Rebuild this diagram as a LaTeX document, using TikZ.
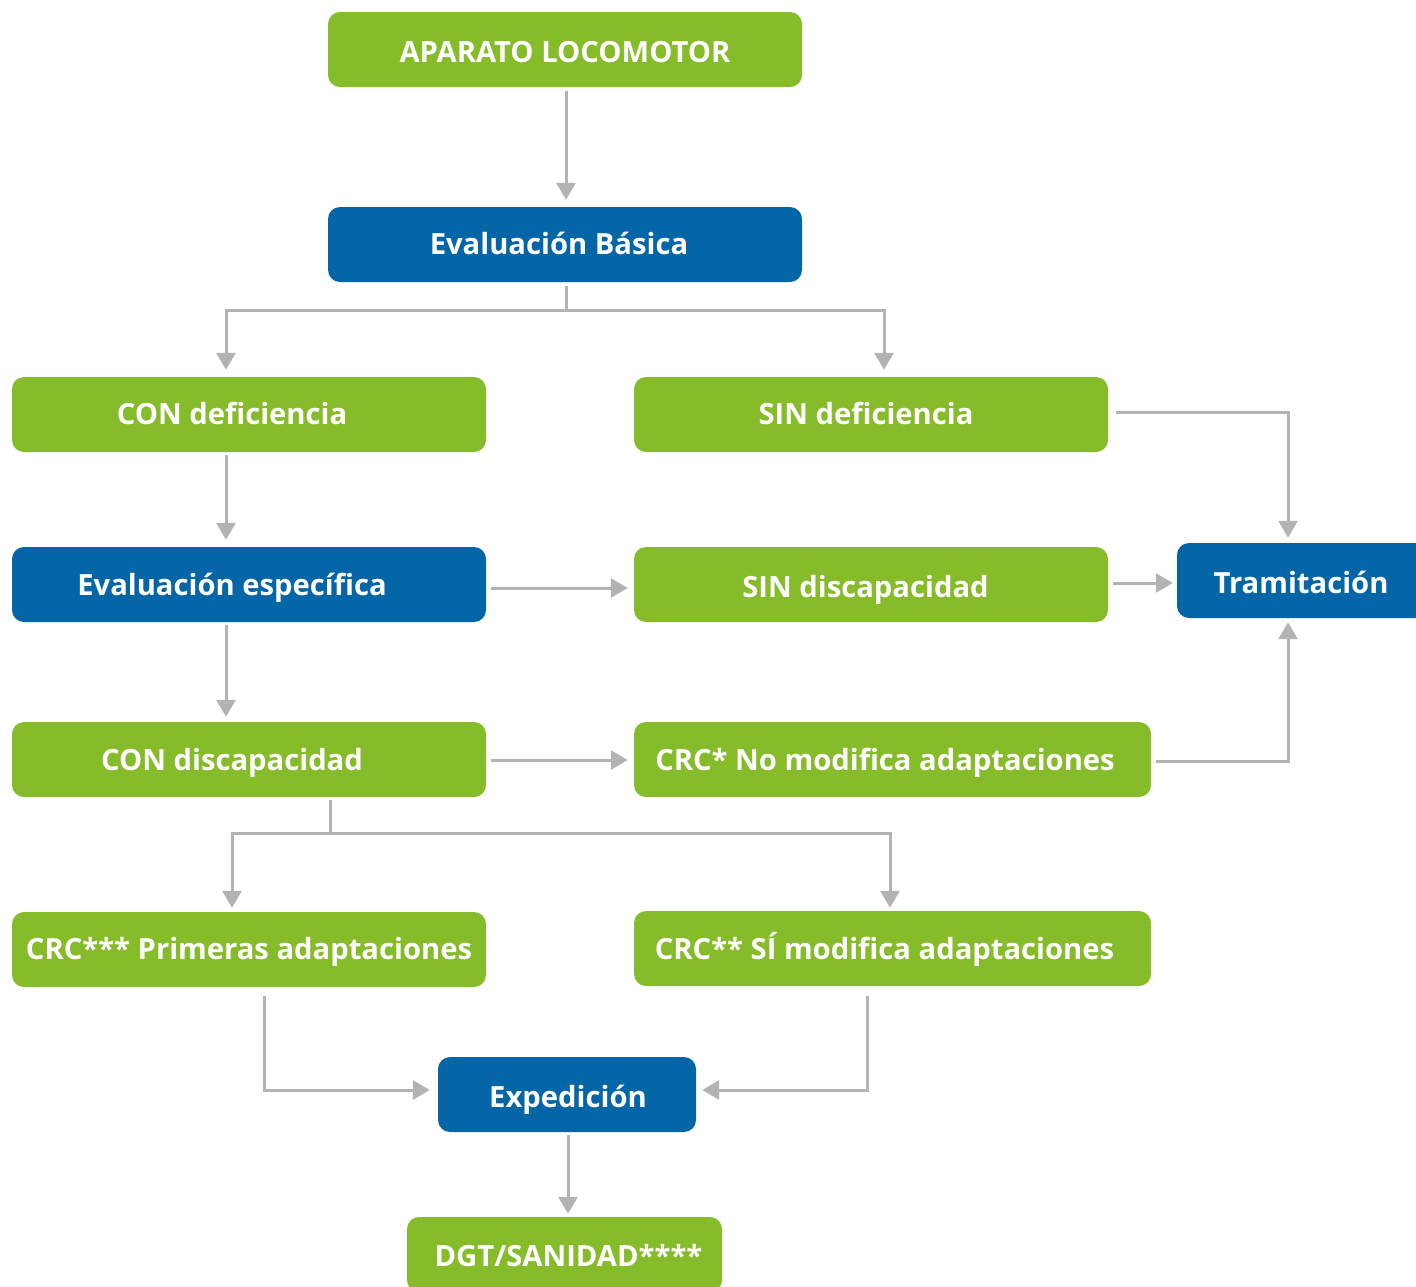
\documentclass[tikz,border=0pt]{standalone}
\usepackage{fontspec}
\setmainfont{Open Sans}
\usetikzlibrary{arrows.meta,calc}
\definecolor{lgreen}{RGB}{134,188,41}
\definecolor{dblue}{RGB}{4,102,166}
\definecolor{lgray}{RGB}{179,179,179}
\begin{document}
\begin{tikzpicture}[x=1pt,y=-1pt,
 box/.style={rounded corners=12pt, minimum height=75pt, inner sep=0pt, draw=none},
 gbox/.style={box, fill=lgreen},
 bbox/.style={box, fill=dblue},
 lbl/.style={anchor=base, text=white, font=\fontsize{29.2}{31}\selectfont\bfseries, inner sep=0pt},
 conn/.style={draw=lgray, line width=3pt, -{Triangle[width=19pt,length=17pt]}},
 plainline/.style={draw=lgray, line width=3pt}
]
\useasboundingbox (0,0) rectangle (1416,1286);
% boxes
\node[gbox, minimum width=474pt] (apa) at (565,49.5) {};
\node[lbl] (apat) at (565,62) {APARATO LOCOMOTOR};
\node[bbox, minimum width=474pt] (bas) at (565,244.5) {};
\node[lbl] (bast) at (559,254) {Evaluación Básica};
\node[gbox, minimum width=474pt] (cond) at (249,414.5) {};
\node[lbl] (condt) at (232,424) {CON deficiencia};
\node[gbox, minimum width=474pt] (sind) at (871,414.5) {};
\node[lbl] (sindt) at (866,424) {SIN deficiencia};
\node[bbox, minimum width=474pt] (espe) at (249,584.5) {};
\node[lbl] (espet) at (232,595) {Evaluación específica};
\node[gbox, minimum width=474pt] (sdis) at (871,584.5) {};
\node[lbl] (sdist) at (865.5,597) {SIN discapacidad};
\node[bbox, minimum width=250pt] (tram) at (1302,580.5) {};
\node[lbl] (tramt) at (1301,593) {Tramitación};
\node[gbox, minimum width=474pt] (cdis) at (249,759.5) {};
\node[lbl] (cdist) at (232,770) {CON discapacidad};
\node[gbox, minimum width=517pt] (crc1) at (892.5,759.5) {};
\node[lbl] (crc1t) at (885,770) {CRC* No modifica adaptaciones};
\node[gbox, minimum width=474pt] (crc3) at (249,949.5) {};
\node[lbl] (crc3t) at (249,959) {CRC*** Primeras adaptaciones};
\node[gbox, minimum width=517pt] (crc2) at (892.5,948.5) {};
\node[lbl] (crc2t) at (884.5,959) {CRC** SÍ modifica adaptaciones};
\node[bbox, minimum width=258pt] (exp) at (567,1094.5) {};
\node[lbl] (expt) at (568,1107) {Expedición};
\node[gbox, minimum width=315pt] (dgt) at (564.5,1254.5) {};
\node[lbl] (dgtt) at (568.5,1266) {DGT/SANIDAD****};
% connectors
\draw[conn] ($(apa.south)+(1,4)$) -- ($(bas.north)+(1,-7)$);
\coordinate (j1) at (566,310);
\draw[plainline] ($(bas.south)+(1,4)$) -- (j1);
\draw[conn] (j1) -| ($(cond.north)+(-23,-7)$);
\draw[conn] (j1) -| ($(sind.north)+(13,-7)$);
\draw[conn] ($(cond.south)+(-23,3)$) -- ($(espe.north)+(-23,-7)$);
\draw[conn] ($(espe.east)+(5,3.5)$) -- ($(sdis.west)+(-6,3.5)$);
\draw[conn] ($(sind.east)+(8,-2.5)$) -| ($(tram.north)+(-14,-5)$);
\draw[conn] ($(sdis.east)+(5,-1.5)$) -- ($(tram.west)+(-4,2.5)$);
\draw[conn] ($(espe.south)+(-23,3)$) -- ($(cdis.north)+(-23,-5)$);
\draw[conn] ($(cdis.east)+(5,0.5)$) -- ($(crc1.west)+(-6,0.5)$);
\draw[conn] ($(crc1.east)+(5,1.5)$) -| ($(tram.south)+(-14,4)$);
\coordinate (j2) at (330,833);
\draw[plainline] ($(cdis.south)+(81,3)$) -- (j2);
\draw[conn] (j2) -| ($(crc3.north)+(-17,-4)$);
\draw[conn] (j2) -| ($(crc2.north)+(-2.5,-3)$);
\draw[conn] ($(crc3.south)+(15,9)$) |- ($(exp.west)+(-8,-4.5)$);
\draw[conn] ($(crc2.south)+(-25.5,10)$) |- ($(exp.east)+(6,-4.5)$);
\draw[conn] ($(exp.south)+(1,3)$) -- ($(dgt.north)+(3.5,-3)$);
\end{tikzpicture}
\end{document}
